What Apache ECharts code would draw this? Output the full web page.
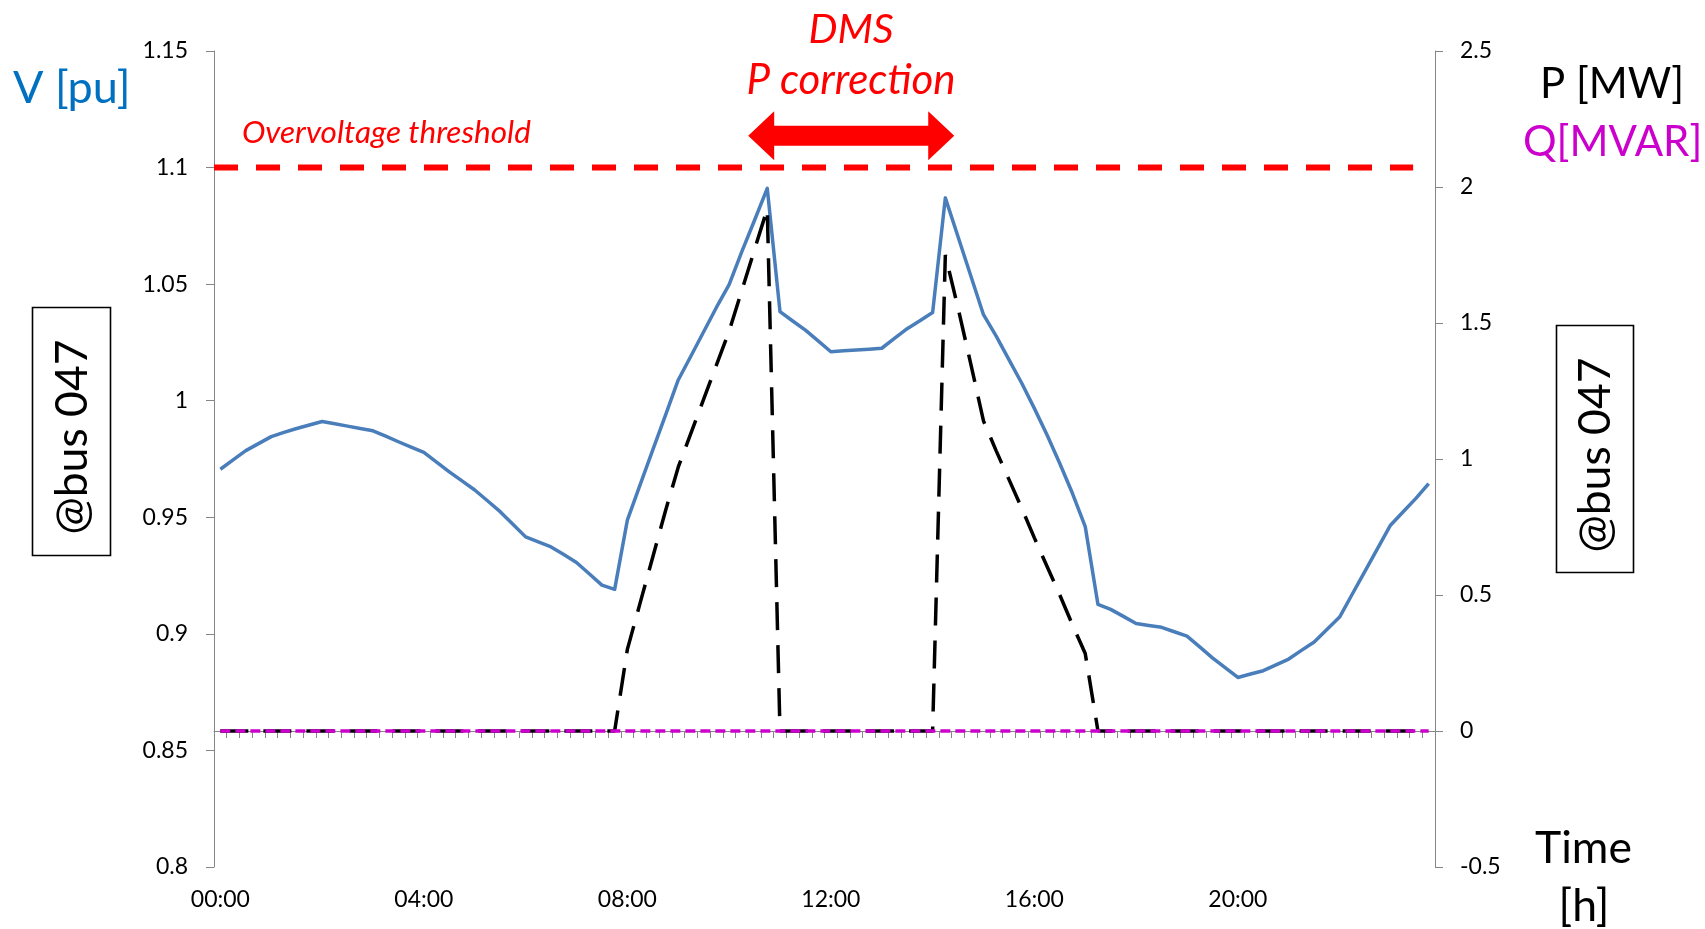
<!DOCTYPE html>
<html>
<head>
<meta charset="utf-8">
<title>Bus 047 voltage and power</title>
<script src="https://cdn.jsdelivr.net/npm/echarts@6/dist/echarts.min.js"></script>
<style>
  html, body { margin: 0; padding: 0; background: #ffffff; }
  #chart { width: 1705px; height: 929px; }
</style>
</head>
<body>
<div id="chart"></div>
<script>
// Quarter-hour time stamps 00:00 ... 23:45
const timeLabels = [];
for (let h = 0; h < 24; h++) {
  for (let m = 0; m < 60; m += 15) {
    timeLabels.push(String(h).padStart(2, '0') + ':' + String(m).padStart(2, '0'));
  }
}

// Bus voltage [pu], one value per quarter hour
const voltage = [
  0.9706, 0.9746, 0.9786, 0.9816, 0.9846, 0.9864, 0.9881, 0.9896,
  0.9911, 0.9901, 0.9891, 0.9881, 0.9871, 0.9848, 0.9824, 0.9801,
  0.9778, 0.9737, 0.9695, 0.9656, 0.9617, 0.9571, 0.9524, 0.9470,
  0.9416, 0.9395, 0.9373, 0.9340, 0.9306, 0.9258, 0.9209, 0.9191,
  0.9488, 0.9639, 0.9789, 0.9938, 1.0089, 1.0192, 1.0296, 1.0400,
  1.0498, 1.0639, 1.0774, 1.0911, 1.0382, 1.0342, 1.0303, 1.0257,
  1.0210, 1.0214, 1.0218, 1.0221, 1.0225, 1.0267, 1.0309, 1.0343,
  1.0378, 1.0870, 1.0703, 1.0536, 1.0369, 1.0277, 1.0176, 1.0076,
  0.9967, 0.9853, 0.9731, 0.9602, 0.9460, 0.9126, 0.9105, 0.9075,
  0.9044, 0.9036, 0.9028, 0.9009, 0.8990, 0.8944, 0.8897, 0.8855,
  0.8813, 0.8828, 0.8842, 0.8867, 0.8892, 0.8929, 0.8965, 0.9019,
  0.9072, 0.9171, 0.9269, 0.9368, 0.9466, 0.9524, 0.9581, 0.9644
];

// Active power [MW] after DMS correction
const activePower = [
  0, 0, 0, 0, 0, 0, 0, 0, 0, 0, 0, 0, 0, 0, 0, 0,
  0, 0, 0, 0, 0, 0, 0, 0, 0, 0, 0, 0, 0, 0, 0, 0,
  0.30, 0.47, 0.64, 0.81, 0.97, 1.095, 1.22, 1.345,
  1.47, 1.62, 1.77, 1.92, 0, 0, 0, 0,
  0, 0, 0, 0, 0, 0, 0, 0,
  0, 1.75, 1.555, 1.35, 1.14, 1.03, 0.925, 0.82,
  0.71, 0.605, 0.50, 0.39, 0.285, 0, 0, 0,
  0, 0, 0, 0, 0, 0, 0, 0,
  0, 0, 0, 0, 0, 0, 0, 0, 0, 0, 0, 0, 0, 0, 0, 0
];

// Reactive power [MVAR]
const reactivePower = [
  0, 0, 0, 0, 0, 0, 0, 0, 0, 0, 0, 0, 0, 0, 0, 0,
  0, 0, 0, 0, 0, 0, 0, 0, 0, 0, 0, 0, 0, 0, 0, 0,
  0, 0, 0, 0, 0, 0, 0, 0, 0, 0, 0, 0, 0, 0, 0, 0,
  0, 0, 0, 0, 0, 0, 0, 0, 0, 0, 0, 0, 0, 0, 0, 0,
  0, 0, 0, 0, 0, 0, 0, 0, 0, 0, 0, 0, 0, 0, 0, 0,
  0, 0, 0, 0, 0, 0, 0, 0, 0, 0, 0, 0, 0, 0, 0, 0
];

// Overvoltage limit [pu] and the span (hours) it is drawn over
const overvoltageLimit = 1.1;
const thresholdHours = [0, 23.57];

// DMS correction window (hours) and the voltage level of its arrow
const correctionHours = [10.5, 14.55];
const correctionLevel = 1.1136;

const FONT = 'Lato, "Open Sans", sans-serif';
const AXIS_GREY = '#868686';

const chart = echarts.init(document.getElementById('chart'), null, { renderer: 'canvas' });

chart.setOption({
  animation: false,
  backgroundColor: '#ffffff',
  grid: { left: 214, right: 270, top: 51, bottom: 62, containLabel: false },
  xAxis: [
    {
      type: 'category',
      data: timeLabels,
      boundaryGap: true,
      axisLine: { lineStyle: { color: AXIS_GREY, width: 1 } },
      axisTick: { show: true, interval: 0, length: 7, lineStyle: { color: AXIS_GREY } },
      axisLabel: { interval: 15, color: '#000', fontFamily: FONT, fontSize: 23, margin: 21 },
      splitLine: { show: false }
    },
    {
      type: 'value',
      min: 0,
      max: 24,
      show: false
    }
  ],
  yAxis: [
    {
      type: 'value',
      position: 'left',
      min: 0.8,
      max: 1.15,
      interval: 0.05,
      axisLine: { show: true, lineStyle: { color: AXIS_GREY, width: 1 } },
      axisTick: { show: true, length: 8, lineStyle: { color: AXIS_GREY } },
      axisLabel: {
        color: '#000', fontFamily: FONT, fontSize: 23, margin: 26,
        formatter: v => String(+v.toFixed(2))
      },
      splitLine: { show: false }
    },
    {
      type: 'value',
      position: 'right',
      min: -0.5,
      max: 2.5,
      interval: 0.5,
      axisLine: { show: true, lineStyle: { color: AXIS_GREY, width: 1 } },
      axisTick: { show: true, length: 8, lineStyle: { color: AXIS_GREY } },
      axisLabel: {
        color: '#000', fontFamily: FONT, fontSize: 23, margin: 25,
        formatter: v => String(+v.toFixed(1))
      },
      splitLine: { show: false }
    }
  ],
  series: [
    {
      name: 'Overvoltage threshold',
      type: 'line',
      xAxisIndex: 1,
      yAxisIndex: 0,
      data: [[thresholdHours[0], overvoltageLimit], [thresholdHours[1], overvoltageLimit]],
      symbol: 'none',
      silent: true,
      lineStyle: { color: '#ff0000', width: 6, type: [24, 18], cap: 'butt' }
    },
    {
      name: 'V',
      type: 'line',
      xAxisIndex: 0,
      yAxisIndex: 0,
      data: voltage,
      symbol: 'none',
      lineStyle: { color: '#4a7ebb', width: 3.5, join: 'round' }
    },
    {
      name: 'P',
      type: 'line',
      xAxisIndex: 0,
      yAxisIndex: 1,
      data: activePower,
      symbol: 'none',
      lineStyle: { color: '#000000', width: 3.5, type: [28, 15], cap: 'butt' }
    },
    {
      name: 'Q',
      type: 'line',
      xAxisIndex: 0,
      yAxisIndex: 1,
      data: reactivePower,
      symbol: 'none',
      lineStyle: { color: '#cc00cc', width: 3.6, type: [10, 5], cap: 'butt' }
    }
  ]
});

// Annotation layer: axis titles, boxed bus labels, threshold note and the DMS arrow
const leftX = chart.convertToPixel({ xAxisIndex: 1 }, correctionHours[0]);
const rightX = chart.convertToPixel({ xAxisIndex: 1 }, correctionHours[1]);
const arrowY = chart.convertToPixel({ yAxisIndex: 0 }, correctionLevel);
const headLen = 26, headHalf = 24.5, shaftHalf = 10;

function label(text, x, y, opts) {
  return Object.assign({
    type: 'text',
    x: x,
    y: y,
    silent: true,
    style: Object.assign({
      text: text,
      fill: '#000',
      font: '42px ' + FONT,
      align: 'left',
      verticalAlign: 'middle',
      textAlign: 'left',
      textVerticalAlign: 'middle'
    }, opts && opts.style)
  }, opts && opts.el);
}

chart.setOption({
  graphic: [
    label('V [pu]', 13, 88, { style: { fill: '#0070c0', font: '45px ' + FONT } }),
    label('P [MW]', 1540, 84),
    label('Q[MVAR]', 1523, 142, { style: { fill: '#cc00cc' } }),
    label('Overvoltage threshold', 242, 133, {
      style: { fill: '#ff0000', font: 'italic 31.5px ' + FONT }
    }),
    label('DMS', 851, 30, {
      style: { fill: '#ff0000', font: 'italic 41px ' + FONT, align: 'center', textAlign: 'center' }
    }),
    label('P correction', 851, 80, {
      style: { fill: '#ff0000', font: 'italic 42px ' + FONT, align: 'center', textAlign: 'center' }
    }),
    label('Time', 1583.5, 849, { style: { align: 'center', textAlign: 'center', font: '44.5px ' + FONT } }),
    label('[h]', 1584, 907, { style: { align: 'center', textAlign: 'center', font: '44.5px ' + FONT } }),
    {
      type: 'rect',
      silent: true,
      shape: { x: 32.5, y: 307.5, width: 78, height: 248 },
      style: { fill: 'none', stroke: '#000', lineWidth: 1.6 }
    },
    label('@bus 047', 73, 437, {
      el: { rotation: Math.PI / 2 },
      style: { align: 'center', textAlign: 'center', font: '44.5px ' + FONT }
    }),
    {
      type: 'rect',
      silent: true,
      shape: { x: 1556.5, y: 325.5, width: 77, height: 247 },
      style: { fill: 'none', stroke: '#000', lineWidth: 1.6 }
    },
    label('@bus 047', 1596, 455, {
      el: { rotation: Math.PI / 2 },
      style: { align: 'center', textAlign: 'center', font: '44.5px ' + FONT }
    }),
    {
      type: 'polygon',
      silent: true,
      shape: {
        points: [
          [leftX, arrowY],
          [leftX + headLen, arrowY - headHalf],
          [leftX + headLen, arrowY - shaftHalf],
          [rightX - headLen, arrowY - shaftHalf],
          [rightX - headLen, arrowY - headHalf],
          [rightX, arrowY],
          [rightX - headLen, arrowY + headHalf],
          [rightX - headLen, arrowY + shaftHalf],
          [leftX + headLen, arrowY + shaftHalf],
          [leftX + headLen, arrowY + headHalf]
        ]
      },
      style: { fill: '#ff0000' }
    }
  ]
});
</script>
</body>
</html>
